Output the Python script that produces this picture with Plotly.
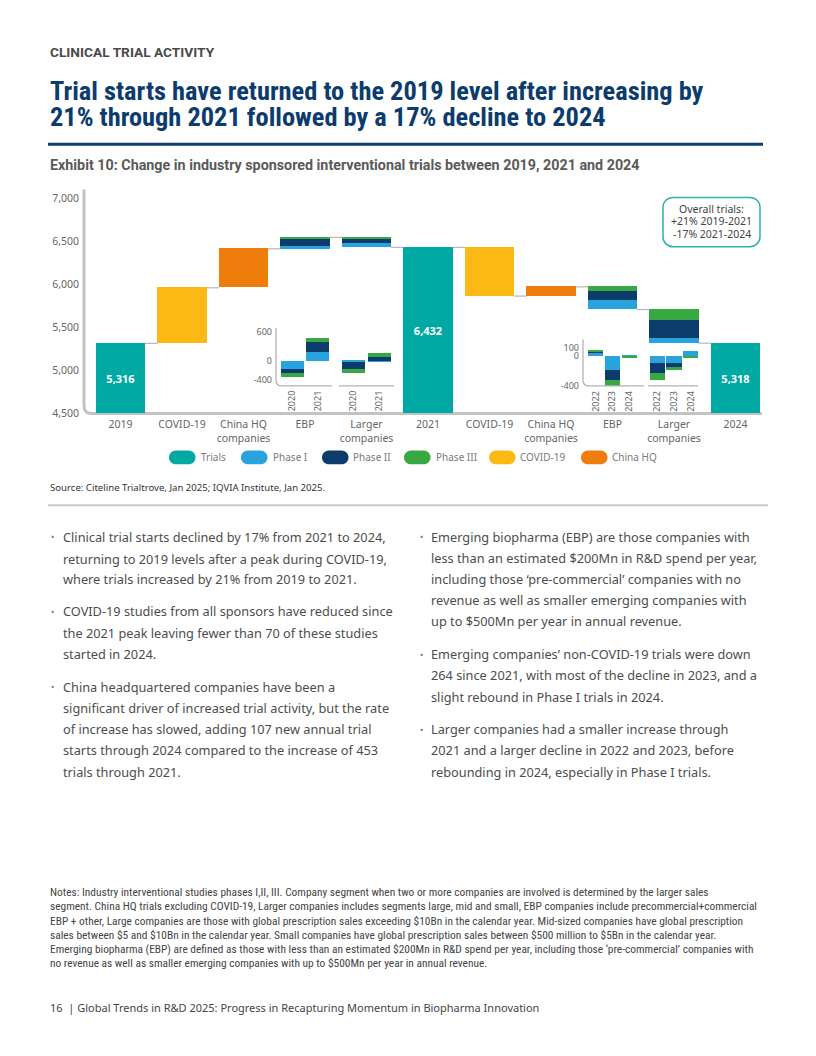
import plotly.graph_objects as go

W, H = 816, 1056


def X(px):
    return px / W


def Y(py):
    return 1 - py / H


# ---------------- data ----------------
categories = ["2019", "COVID-19", "China HQ<br>companies", "EBP", "Larger<br>companies",
              "2021", "COVID-19", "China HQ<br>companies", "EBP", "Larger<br>companies", "2024"]
total_years = ["2019", "2021", "2024"]
total_values = [5316, 6432, 5318]
covid_change = [645, -567]          # 2019-2021, 2021-2024
china_change = [453, 107]
# net change by phase (Phase I, Phase II, Phase III)
ebp_phase_1921 = [23, 96, 15]
larger_phase_1921 = [-50, -51, -15]
ebp_phase_2124 = [-104, -112, -48]
larger_phase_2124 = [-55, -210, -125]

# inset 2019-2021 (yearly change)
inset_years_a = ["2020", "2021"]
ebp_p1_a = [-173, 188]
ebp_p2_a = [-90, 208]
ebp_p3_a = [-83, 90]
larger_p1_a = [-20, -25]
larger_p2_a = [-153, 83]
larger_p3_a = [-77, 83]
inset_a_ticks = [600, 0, -400]
# inset 2021-2024
inset_years_b = ["2022", "2023", "2024"]
ebp_p1_b = [42, -181, 18]
ebp_p2_b = [6, -135, 0]
ebp_p3_b = [34, -72, -14]
larger_p1_b = [-84, -93, 72]
larger_p2_b = [-135, -55, 0]
larger_p3_b = [-88, -30, -15]
inset_b_ticks = [100, 0, -400]

Y_MIN, Y_MAX = 4500, 7000
y_ticks = [4500, 5000, 5500, 6000, 6500, 7000]

# ---------------- styles ----------------
C_TRIALS = "#00A9A4"
C_P1 = "#29A3DE"
C_P2 = "#0B3C6C"
C_P3 = "#38A843"
C_COVID = "#FDB913"
C_CHINA = "#EF7D0B"
PHASE_COLORS = [C_P1, C_P2, C_P3]
NAVY = "#0C3C6E"
GREY_TXT = "#666666"
BODY = "#4d4d4d"
SANS = "Noto Sans"
COND = "Liberation Sans Narrow, Roboto Condensed, Arial Narrow, Liberation Sans"

BAR_W = 0.797

fig = go.Figure()

# ---------------- main waterfall ----------------
total_idx = [0, 5, 10]
fig.add_trace(go.Bar(
    x=total_idx, y=[v - Y_MIN for v in total_values], base=[Y_MIN] * 3,
    width=BAR_W, marker=dict(color=C_TRIALS, line=dict(width=0)),
    text=[f"{v:,}" for v in total_values], textposition="inside",
    insidetextanchor="middle", textangle=0,
    textfont=dict(family=SANS, size=11, color="white", weight="bold"),
    showlegend=False, xaxis="x", yaxis="y"))

conn_x, conn_y = [], []


def add_connector(i, level):
    conn_x.extend([i + BAR_W / 2, i + 1 - BAR_W / 2, None])
    conn_y.extend([level, level, None])


for period in range(2):
    start_idx = 5 * period
    level = total_values[period]
    add_connector(start_idx, level)
    # COVID-19
    i = start_idx + 1
    fig.add_trace(go.Bar(x=[i], y=[covid_change[period]], base=[level], width=BAR_W,
                         marker=dict(color=C_COVID, line=dict(width=0)), showlegend=False))
    level += covid_change[period]
    add_connector(i, level)
    # China HQ
    i = start_idx + 2
    fig.add_trace(go.Bar(x=[i], y=[china_change[period]], base=[level], width=BAR_W,
                         marker=dict(color=C_CHINA, line=dict(width=0)), showlegend=False))
    level += china_change[period]
    add_connector(i, level)
    # EBP and Larger companies split by phase
    phase_sets = [ebp_phase_1921, larger_phase_1921] if period == 0 else [ebp_phase_2124, larger_phase_2124]
    for k, phases in enumerate(phase_sets):
        i = start_idx + 3 + k
        net = sum(phases)
        low = min(level, level + net)
        acc = low
        for p, val in enumerate(phases):
            fig.add_trace(go.Bar(x=[i], y=[abs(val)], base=[acc], width=BAR_W,
                                 marker=dict(color=PHASE_COLORS[p], line=dict(width=0)),
                                 showlegend=False))
            acc += abs(val)
        level += net
        if i < 10:
            add_connector(i, level)

fig.add_trace(go.Scatter(x=conn_x, y=conn_y, mode="lines",
                         line=dict(color="#a9a9a9", width=1), showlegend=False,
                         hoverinfo="skip"))

# ---------------- insets ----------------
off_a = [-0.21, 0.21]
off_b = [-0.27, 0.0, 0.27]
inset_a_sets = [(3, [ebp_p1_a, ebp_p2_a, ebp_p3_a]), (4, [larger_p1_a, larger_p2_a, larger_p3_a])]
inset_b_sets = [(8, [ebp_p1_b, ebp_p2_b, ebp_p3_b]), (9, [larger_p1_b, larger_p2_b, larger_p3_b])]

tick_a_vals, tick_a_text = [], []
for center, series in inset_a_sets:
    xs = [center + o for o in off_a]
    tick_a_vals += xs
    tick_a_text += inset_years_a
    for p, vals in enumerate(series):
        fig.add_trace(go.Bar(x=xs, y=vals, width=0.374, xaxis="x2", yaxis="y2",
                             marker=dict(color=PHASE_COLORS[p], line=dict(width=0)),
                             showlegend=False))

tick_b_vals, tick_b_text = [], []
for center, series in inset_b_sets:
    xs = [center + o for o in off_b]
    tick_b_vals += xs
    tick_b_text += inset_years_b
    for p, vals in enumerate(series):
        fig.add_trace(go.Bar(x=xs, y=vals, width=0.245, xaxis="x3", yaxis="y3",
                             marker=dict(color=PHASE_COLORS[p], line=dict(width=0)),
                             showlegend=False))

# ---------------- axes ----------------
X_RANGE = [(84 - 120.5) / 61.5, (762 - 120.5) / 61.5]
x_dom = [X(84), X(762)]

fig.update_layout(
    width=W, height=H, margin=dict(l=0, r=0, t=0, b=0),
    paper_bgcolor="white", plot_bgcolor="rgba(0,0,0,0)",
    barmode="relative", bargap=0,
    showlegend=False, hovermode=False,
    font=dict(family=SANS, color=GREY_TXT),
    xaxis=dict(domain=x_dom, range=X_RANGE, tickmode="array", tickvals=list(range(11)),
               ticktext=categories, showgrid=False, zeroline=False, showline=False,
               ticks="", tickfont=dict(size=10.5, color=GREY_TXT), ticklabelstandoff=3,
               fixedrange=True),
    yaxis=dict(domain=[Y(412), Y(194)], range=[Y_MIN, Y_MAX], tickmode="array",
               tickvals=y_ticks, tickformat=",", showgrid=False, zeroline=False,
               showline=False, ticks="", tickfont=dict(size=10.5, color=GREY_TXT),
               ticklabelstandoff=4, fixedrange=True),
    xaxis2=dict(domain=x_dom, range=X_RANGE, anchor="y2", tickmode="array",
                tickvals=tick_a_vals, ticktext=tick_a_text, tickangle=-90,
                showgrid=False, zeroline=False, showline=False, ticks="",
                tickfont=dict(size=9, color=GREY_TXT), ticklabelstandoff=2),
    yaxis2=dict(domain=[Y(384), Y(325)], range=[-535, 694], anchor="free",
                position=X(276), tickmode="array", tickvals=inset_a_ticks,
                ticktext=[str(v) for v in inset_a_ticks],
                showgrid=False, zeroline=False, showline=False, ticks="",
                tickfont=dict(size=9, color=GREY_TXT), ticklabelstandoff=4),
    xaxis3=dict(domain=x_dom, range=X_RANGE, anchor="y3", tickmode="array",
                tickvals=tick_b_vals, ticktext=tick_b_text, tickangle=-90,
                showgrid=False, zeroline=False, showline=False, ticks="",
                tickfont=dict(size=9, color=GREY_TXT), ticklabelstandoff=2),
    yaxis3=dict(domain=[Y(384.5), Y(337)], range=[-402, 210], anchor="free",
                position=X(583), tickmode="array", tickvals=inset_b_ticks,
                ticktext=[str(v) for v in inset_b_ticks],
                showgrid=False, zeroline=False, showline=False, ticks="",
                tickfont=dict(size=9, color=GREY_TXT), ticklabelstandoff=4),
)


# ---------------- shapes ----------------
def P(px, py):
    return f"{X(px):.5f},{Y(py):.5f}"


def rrect(x0, y0, x1, y1, r):
    k = 0.5523 * r
    return (f"M {P(x0 + r, y0)} L {P(x1 - r, y0)} "
            f"C {P(x1 - r + k, y0)} {P(x1, y0 + r - k)} {P(x1, y0 + r)} "
            f"L {P(x1, y1 - r)} "
            f"C {P(x1, y1 - r + k)} {P(x1 - r + k, y1)} {P(x1 - r, y1)} "
            f"L {P(x0 + r, y1)} "
            f"C {P(x0 + r - k, y1)} {P(x0, y1 - r + k)} {P(x0, y1 - r)} "
            f"L {P(x0, y0 + r)} "
            f"C {P(x0, y0 + r - k)} {P(x0 + r - k, y0)} {P(x0 + r, y0)} Z")


shapes = []
# main axis with rounded corner
shapes.append(dict(type="path", xref="paper", yref="paper",
                   path=f"M {P(84, 185)} L {P(84, 404)} Q {P(84, 412)} {P(92, 412)} L {P(762, 412)}",
                   line=dict(color="#c3c3c3", width=3), layer="below"))
# inset axes
shapes.append(dict(type="path", xref="paper", yref="paper",
                   path=(f"M {P(276, 325)} L {P(276, 378)} Q {P(276, 384)} {P(282, 384)} L {P(332, 384)} "
                         f"M {P(339, 384)} L {P(394, 384)}"),
                   line=dict(color="#b3b3b3", width=1.3)))
shapes.append(dict(type="path", xref="paper", yref="paper",
                   path=(f"M {P(583, 337)} L {P(583, 378)} Q {P(583, 384)} {P(589, 384)} L {P(644, 384)} "
                         f"M {P(648, 384)} L {P(698, 384)}"),
                   line=dict(color="#b3b3b3", width=1.3)))
# overall trials box
shapes.append(dict(type="path", xref="paper", yref="paper", path=rrect(663, 193, 760, 243, 10),
                   line=dict(color="#2DB3AC", width=1.5), fillcolor="white"))
# title rule
shapes.append(dict(type="line", xref="paper", yref="paper", x0=X(48), x1=X(763), y0=Y(139), y1=Y(139),
                   line=dict(color=NAVY, width=3)))
# separator
shapes.append(dict(type="line", xref="paper", yref="paper", x0=X(48), x1=X(768), y0=Y(505), y1=Y(505),
                   line=dict(color="#c8c8c8", width=2)))

# legend pills
legend_items = [("Trials", C_TRIALS, 169, 199), ("Phase I", C_P1, 241, 271),
                ("Phase II", C_P2, 322, 351), ("Phase III", C_P3, 404, 434),
                ("COVID-19", C_COVID, 489, 518), ("China HQ", C_CHINA, 581, 610)]
annotations = []
for name, col, x0, tx in legend_items:
    shapes.append(dict(type="path", xref="paper", yref="paper", path=rrect(x0, 449.5, x0 + 26.5, 463.5, 7),
                       fillcolor=col, line=dict(width=0)))
    annotations.append(dict(x=X(tx), y=Y(456.5), xref="paper", yref="paper", text=name,
                            showarrow=False, xanchor="left", yanchor="middle",
                            font=dict(family=SANS, size=10, color="#7a7a7a")))


def txt(x, y, s, size, color=BODY, family=SANS, bold=False, anchor="left"):
    annotations.append(dict(x=X(x), y=Y(y), xref="paper", yref="paper", text=s, showarrow=False,
                            xanchor=anchor, yanchor="middle",
                            font=dict(family=family, size=size, color=color,
                                      weight="bold" if bold else "normal")))


# overall box text
for yy, s in zip([204.5, 217, 230], ["Overall trials:", "+21% 2019-2021", "-17% 2021-2024"]):
    txt(711.5, yy, s, 10.5, color="#444444", anchor="center")

# headings
txt(48, 46, "CLINICAL TRIAL ACTIVITY", 13.7, color="#4a4a4a", family="Roboto", bold=True)
txt(48, 85, "Trial starts have returned to the 2019 level after increasing by", 26.4, color=NAVY, family=COND, bold=True)
txt(48, 111, "21% through 2021 followed by a 17% decline to 2024", 26.4, color=NAVY, family=COND, bold=True)
txt(48, 160, "Exhibit 10: Change in industry sponsored interventional trials between 2019, 2021 and 2024",
    14.3, color="#5a5a5a", family="Roboto", bold=True)
txt(48, 487, "Source: Citeline Trialtrove, Jan 2025; IQVIA Institute, Jan 2025.", 9.6, color="#333333")

left_lines = [
    (537, "Clinical trial starts declined by 17% from 2021 to 2024,", True),
    (559, "returning to 2019 levels after a peak during COVID-19,", False),
    (580, "where trials increased by 21% from 2019 to 2021.", False),
    (612.5, "COVID-19 studies from all sponsors have reduced since", True),
    (634, "the 2021 peak leaving fewer than 70 of these studies", False),
    (656, "started in 2024.", False),
    (689, "China headquartered companies have been a", True),
    (710.5, "significant driver of increased trial activity, but the rate", False),
    (732, "of increase has slowed, adding 107 new annual trial", False),
    (753, "starts through 2024 compared to the increase of 453", False),
    (775, "trials through 2021.", False),
]
right_lines = [
    (537, "Emerging biopharma (EBP) are those companies with", True),
    (558.5, "less than an estimated $200Mn in R&D spend per year,", False),
    (580, "including those ‘pre-commercial’ companies with no", False),
    (601, "revenue as well as smaller emerging companies with", False),
    (622.5, "up to $500Mn per year in annual revenue.", False),
    (656, "Emerging companies’ non-COVID-19 trials were down", True),
    (677, "264 since 2021, with most of the decline in 2023, and a", False),
    (699, "slight rebound in Phase I trials in 2024.", False),
    (732, "Larger companies had a smaller increase through", True),
    (753, "2021 and a larger decline in 2022 and 2023, before", False),
    (775, "rebounding in 2024, especially in Phase I trials.", False),
]
for yy, s, bullet in left_lines:
    if bullet:
        txt(48.5, yy, "•", 9, color="#777777")
    txt(60.5, yy, s, 12.75)
for yy, s, bullet in right_lines:
    if bullet:
        txt(418.5, yy, "•", 9, color="#777777")
    txt(429, yy, s, 12.75)

notes = [
    "Notes: Industry interventional studies phases I,II, III. Company segment when two or more companies are involved is determined by the larger sales",
    "segment. China HQ trials excluding COVID-19, Larger companies includes segments large, mid and small, EBP companies include precommercial+commercial",
    "EBP + other, Large companies are those with global prescription sales exceeding $10Bn in the calendar year. Mid-sized companies have global prescription",
    "sales between $5 and $10Bn in the calendar year. Small companies have global prescription sales between $500 million to $5Bn in the calendar year.",
    "Emerging biopharma (EBP) are defined as those with less than an estimated $200Mn in R&D spend per year, including those ‘pre-commercial’ companies with",
    "no revenue as well as smaller emerging companies with up to $500Mn per year in annual revenue.",
]
for k, s in enumerate(notes):
    txt(48, 897 + 14.4 * k, s, 11.4, color="#444444", family=COND)

txt(48, 1014, "16  | Global Trends in R&D 2025: Progress in Recapturing Momentum in Biopharma Innovation",
    11, color="#444444")

fig.update_layout(shapes=shapes, annotations=annotations)

post = "document.body.style.margin='0';document.body.style.overflow='hidden';"
fig.write_html("out.html", config={"displayModeBar": False}, post_script=post)
